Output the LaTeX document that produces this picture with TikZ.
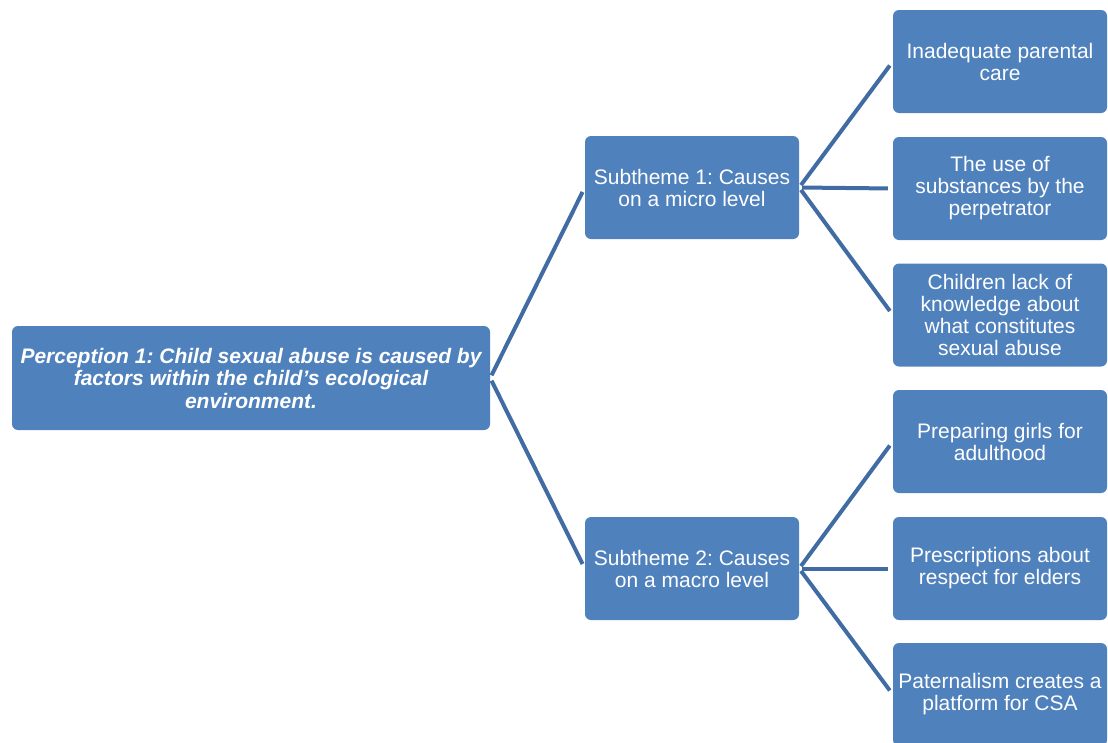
\documentclass[tikz,border=0pt]{standalone}
\usepackage{fontspec}
\setmainfont{Liberation Sans}
\definecolor{boxblue}{RGB}{79,129,189}
\definecolor{lineblue}{RGB}{64,108,163}
\frenchspacing
\begin{document}
\begin{tikzpicture}[x=1pt,y=-1pt,
  box/.style={fill=boxblue, rounded corners=6pt, text=white, align=center,
    font=\fontsize{21}{22}\selectfont, inner sep=0pt},
  rootbox/.style={box, minimum width=478pt, minimum height=104pt,
    font=\fontsize{21}{22.5}\selectfont\bfseries\itshape},
  subbox/.style={box, minimum width=214pt, minimum height=103pt},
  leafbox/.style={box, minimum width=214pt, minimum height=103pt},
  conn/.style={draw=lineblue, line width=4pt, shorten <=3pt, shorten >=5pt}]
\useasboundingbox (0,0) rectangle (1108,742);
\clip (0,0) rectangle (1108,742);
\node[rootbox] (root) at (251,378) {\frenchspacing Perception 1: Child sexual abuse is caused by\\factors within the child’s ecological\\environment.};
\node[subbox] (s1) at (692,187.5) {\frenchspacing Subtheme 1: Causes\\on a micro level};
\node[subbox] (s2) at (692,568.5) {\frenchspacing Subtheme 2: Causes\\on a macro level};
\node[leafbox] (l1) at (1000,61.5) {Inadequate parental\\care};
\node[leafbox] (l2) at (1000,188.5) {The use of\\substances by the\\perpetrator};
\node[leafbox] (l3) at (1000,315) {Children lack of\\knowledge about\\what constitutes\\sexual abuse};
\node[leafbox] (l4) at (1000,441.5) {Preparing girls for\\adulthood};
\node[leafbox] (l5) at (1000,568.5) {Prescriptions about\\respect for elders};
\node[leafbox] (l6) at (1000,694.5) {Paternalism creates a\\platform for CSA};
\draw[conn] (root.east) -- (s1.west);
\draw[conn] (root.east) -- (s2.west);
\draw[conn] (s1.east) -- (l1.west);
\draw[conn] (s1.east) -- (l2.west);
\draw[conn] (s1.east) -- (l3.west);
\draw[conn] (s2.east) -- (l4.west);
\draw[conn] (s2.east) -- (l5.west);
\draw[conn] (s2.east) -- (l6.west);
\end{tikzpicture}
\end{document}
